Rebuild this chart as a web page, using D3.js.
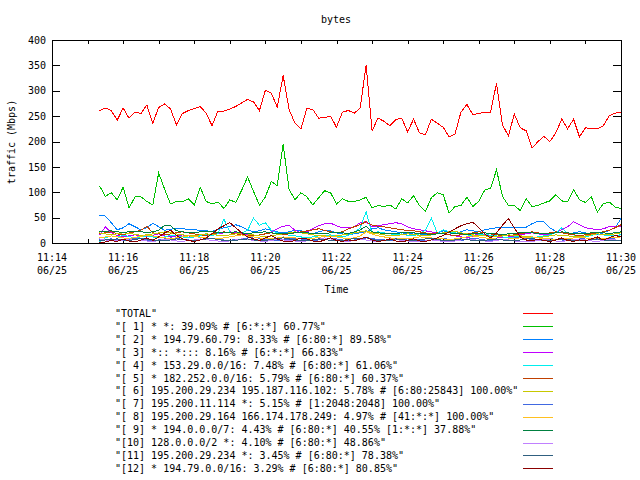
<!DOCTYPE html>
<html><head><meta charset="utf-8">
<script src="https://cdn.jsdelivr.net/npm/d3@7"></script>
<style>
body{margin:0;background:#fff}
svg{display:block}
text{font-family:"DejaVu Sans Mono","Liberation Mono",monospace;font-size:10px;fill:#000}
</style>
</head><body>
<svg id="c" width="640" height="480"></svg>
<script>
const title = "bytes";
const yLabel = "traffic (Mbps)";
const xLabel = "Time";
const yTicks = [0, 50, 100, 150, 200, 250, 300, 350, 400];
const xTickLabels = ["11:14","11:16","11:18","11:20","11:22","11:24","11:26","11:28","11:30"];
const xDateLabel = "06/25";
const startTime = "11:15:20";
const stepSeconds = 10;

const seriesNames = [
  '"TOTAL"',
  '"[ 1] * *: 39.09% # [6:*:*] 60.77%"',
  '"[ 2] * 194.79.60.79: 8.33% # [6:80:*] 89.58%"',
  '"[ 3] *:: *::: 8.16% # [6:*:*] 66.83%"',
  '"[ 4] * 153.29.0.0/16: 7.48% # [6:80:*] 61.06%"',
  '"[ 5] * 182.252.0.0/16: 5.79% # [6:80:*] 60.37%"',
  '"[ 6] 195.200.29.234 195.187.116.102: 5.78% # [6:80:25843] 100.00%"',
  '"[ 7] 195.200.11.114 *: 5.15% # [1:2048:2048] 100.00%"',
  '"[ 8] 195.200.29.164 166.174.178.249: 4.97% # [41:*:*] 100.00%"',
  '"[ 9] * 194.0.0.0/7: 4.43% # [6:80:*] 40.55% [1:*:*] 37.88%"',
  '"[10] 128.0.0.0/2 *: 4.10% # [6:80:*] 48.86%"',
  '"[11] 195.200.29.234 *: 3.45% # [6:80:*] 78.38%"',
  '"[12] * 194.79.0.0/16: 3.29% # [6:80:*] 80.85%"'
];
const seriesColors = ["#ff0000","#00c000","#0080ff","#c000ff","#00eeee","#c04000","#c8c800","#4169e1","#ffc020","#008040","#c080ff","#306080","#8b0000"];

const total = [261,266,261,242,266,246,258,255,272,236,267,274,264,233,255,261,265,269,256,231,260,260,264,
  269,276,283,278,261,301,295,268,330,263,236,225,265,263,246,247,250,228,258,261,256,266,
  351,221,246,240,231,243,246,219,244,217,213,244,236,228,209,215,258,273,253,255,258,258,
  315,233,211,254,227,221,187,200,210,200,217,244,225,244,209,227,225,225,231,250,256,257];
const s1 = [113,92,99,85,110,69,91,91,82,75,138,106,77,82,81,87,75,110,82,77,81,68,85,
  80,104,130,102,74,91,121,113,194,106,85,99,91,75,89,103,99,77,87,82,82,85,
  90,69,74,72,75,67,87,79,93,74,62,89,99,95,59,72,74,90,72,82,104,108,
  144,92,74,74,64,87,72,74,79,83,95,83,81,105,85,80,91,61,77,81,71,68];
const s2 = [55,53,40,26,30,38,32,26,30,39,32,25,27,29,28,27,26,25,24,23,26,30,33,36,32,26,22,24,28,25,
  22,20,22,25,24,20,18,22,25,24,20,18,16,18,20,22,28,30,26,24,22,20,18,20,18,16,18,20,24,20,
  18,22,26,24,22,26,28,30,31,31,31,31,31,38,43,42,30,23,20,18,20,22,20,18,16,20,25,30,48];
const s3 = [15,32,20,15,12,14,16,14,12,15,18,14,12,14,16,14,12,15,14,16,18,20,22,20,18,16,14,16,18,22,
  28,33,35,25,20,22,28,34,38,39,34,30,30,32,40,42,32,34,36,38,40,38,32,28,26,24,22,20,18,16,
  14,12,10,14,18,16,14,12,10,12,14,16,18,20,18,16,18,22,26,32,42,36,30,28,26,28,32,33,33];
const s4 = [2,10,14,12,15,13,10,12,14,12,10,12,15,14,12,10,12,14,16,15,18,47,22,18,20,25,49,35,40,25,
  20,18,15,14,12,10,12,14,15,16,14,12,15,20,30,62,18,22,20,18,16,18,15,14,18,25,49,20,26,22,
  20,18,16,14,16,18,15,14,12,10,12,14,12,10,12,14,16,20,30,18,16,14,12,15,18,16,14,15,16];
const s5 = [18,20,22,18,16,20,22,25,33,20,18,16,18,20,22,20,18,16,15,18,20,22,20,18,16,15,14,16,18,20,
  18,16,18,20,22,24,26,28,25,22,20,22,28,32,36,42,35,33,32,30,28,26,25,24,22,20,18,20,18,16,
  15,16,18,20,22,20,18,16,15,14,16,18,20,22,20,18,20,22,20,18,16,15,16,18,20,22,25,30,36];
const s6 = [20,18,16,18,20,19,17,15,16,18,20,22,20,18,16,15,14,16,18,17,15,14,16,18,20,18,16,14,12,14,
  16,18,20,22,20,18,16,15,14,13,14,16,18,20,22,24,20,18,16,14,15,16,18,17,15,14,16,18,20,22,
  23,20,18,16,15,14,13,12,14,16,15,14,13,12,11,12,14,16,15,14,13,12,14,16,18,17,16,18,20];
const s7 = [6,7,8,6,5,7,9,8,6,5,6,8,10,9,7,6,5,6,8,9,7,6,5,7,8,10,12,9,7,6,
  5,6,8,10,8,6,5,6,7,9,8,6,5,6,8,10,9,7,6,5,6,7,8,7,6,5,6,8,9,7,
  6,5,7,9,8,6,5,6,7,8,10,12,9,7,6,8,9,7,6,5,6,8,10,9,7,6,8,10,12];
const s8 = [10,12,14,12,10,9,11,13,15,14,12,10,9,10,12,14,13,11,10,9,8,10,12,14,16,14,12,10,9,8,
  10,12,11,10,9,8,9,11,13,14,12,10,9,10,14,22,18,14,12,10,9,8,9,10,12,11,10,9,8,7,
  8,10,12,14,12,10,9,8,7,8,9,10,11,12,10,9,8,7,8,9,10,11,10,9,8,9,10,11,12];
const s9 = [22,23,24,22,21,22,23,22,21,22,25,35,34,24,22,21,20,22,23,22,21,20,21,22,20,19,20,21,22,20,
  19,18,19,20,21,20,19,18,19,20,21,20,19,22,26,33,22,20,19,18,19,20,21,20,19,18,17,18,19,20,
  19,18,17,18,19,20,19,18,17,18,19,20,21,20,19,18,19,20,22,20,19,18,19,20,21,20,19,20,22];
const s10 = [8,6,5,4,6,8,7,5,4,3,5,7,6,4,3,5,6,8,7,5,4,3,4,6,8,7,5,4,3,5,
  7,6,5,4,3,4,6,8,10,8,6,4,3,5,7,6,4,3,5,8,7,5,4,3,2,4,6,5,3,2,
  4,6,8,7,5,4,3,5,7,6,4,3,2,3,5,7,6,4,3,5,7,8,6,4,3,5,7,6,5];
const s11 = [5,6,7,8,6,5,7,9,8,6,5,4,6,8,7,5,4,6,8,9,7,5,4,5,7,8,6,4,5,7,
  9,10,8,6,5,4,6,8,7,5,4,5,7,9,8,12,7,5,4,6,8,7,5,4,6,8,9,7,5,4,
  6,8,7,5,4,5,7,8,6,5,4,6,8,9,7,5,4,6,8,7,5,4,5,7,8,6,5,4,6];
const s12 = [0,2,5,3,8,4,2,6,10,5,12,20,25,15,8,5,3,6,10,18,28,34,40,30,20,12,8,5,10,15,
  8,4,2,5,10,8,4,2,6,10,5,3,6,4,8,12,6,3,5,8,4,2,5,8,4,3,6,10,15,22,
  28,34,38,41,30,18,10,20,35,48,30,12,6,4,8,5,3,6,10,5,3,6,4,8,12,6,10,15,12];

const seriesValues = [total,s1,s2,s3,s4,s5,s6,s7,s8,s9,s10,s11,s12];

const parseT = d3.timeParse("%H:%M:%S");
const t0 = parseT(startTime);
const times = total.map((_, i) => new Date(t0.getTime() + i * stepSeconds * 1000));
const xDomain = [parseT(xTickLabels[0] + ":00"), parseT(xTickLabels[xTickLabels.length-1] + ":00")];

const L = 52, R = 621, T = 40, B = 243;
const svg = d3.select("#c");
const x = d3.scaleTime().domain(xDomain).range([L, R]);
const y = d3.scaleLinear().domain([0, 400]).range([B, T]);

const majorX = xTickLabels.map(s => parseT(s + ":00"));
const allX = d3.timeMinute.range(xDomain[0], d3.timeMinute.offset(xDomain[1], 1));

// ticks (inward, mirrored)
const g = svg.append("g").attr("shape-rendering", "crispEdges");
g.append("g").attr("transform", `translate(0,${B})`)
  .call(d3.axisBottom(x).tickValues(allX).tickSize(-4).tickFormat(""))
  .call(s => s.select(".domain").remove());
g.append("g").attr("transform", `translate(0,${T})`)
  .call(d3.axisTop(x).tickValues(allX).tickSize(-4).tickFormat(""))
  .call(s => s.select(".domain").remove());
g.append("g").attr("transform", `translate(${L},0)`)
  .call(d3.axisLeft(y).tickValues(yTicks).tickSize(-8).tickPadding(6))
  .call(s => s.select(".domain").remove())
  .call(s => s.selectAll("text").style("font-family", null).style("font-size", null).attr("font-family", null).attr("font-size", null));
g.append("g").attr("transform", `translate(${R},0)`)
  .call(d3.axisRight(y).tickValues(yTicks).tickSize(-8).tickFormat(""))
  .call(s => s.select(".domain").remove());
svg.selectAll(".tick line").attr("stroke", "#000");
svg.selectAll("g[font-family]").attr("font-family", null).attr("font-size", null);

// x labels (two lines)
const xl = svg.append("g");
majorX.forEach((d, i) => {
  const t = xl.append("text").attr("text-anchor", "middle").attr("x", x(d));
  t.append("tspan").attr("x", x(d)).attr("y", 260.5).text(xTickLabels[i]);
  t.append("tspan").attr("x", x(d)).attr("y", 273.5).text(xDateLabel);
});

// data lines
const line = d3.line().x((d, i) => x(times[i])).y(d => y(d));
const lines = svg.append("g").attr("fill", "none").attr("stroke-width", 1).attr("shape-rendering", "crispEdges");
seriesValues.forEach((vals, k) => {
  lines.append("path").attr("d", line(vals)).attr("stroke", seriesColors[k]);
});

// border
svg.append("rect").attr("x", L).attr("y", T).attr("width", R - L).attr("height", B - T)
  .attr("fill", "none").attr("stroke", "#000").attr("shape-rendering", "crispEdges");

// titles
svg.append("text").attr("x", 336).attr("y", 22.5).attr("text-anchor", "middle").text(title);
svg.append("text").attr("x", 336.5).attr("y", 292.5).attr("text-anchor", "middle").text(xLabel);
svg.append("text").attr("transform", "translate(14.5,142) rotate(-90)").attr("text-anchor", "middle").text(yLabel);

// legend
const lg = svg.append("g");
seriesNames.forEach((name, k) => {
  const cy = 313.3 + k * 12.92;
  lg.append("text").attr("x", 115).attr("y", cy + 3.6).text(name);
  lg.append("line").attr("x1", 523).attr("x2", 553).attr("y1", Math.round(cy) + 0.5).attr("y2", Math.round(cy) + 0.5)
    .attr("stroke", seriesColors[k]).attr("stroke-width", 1);
});
</script>
</body></html>
